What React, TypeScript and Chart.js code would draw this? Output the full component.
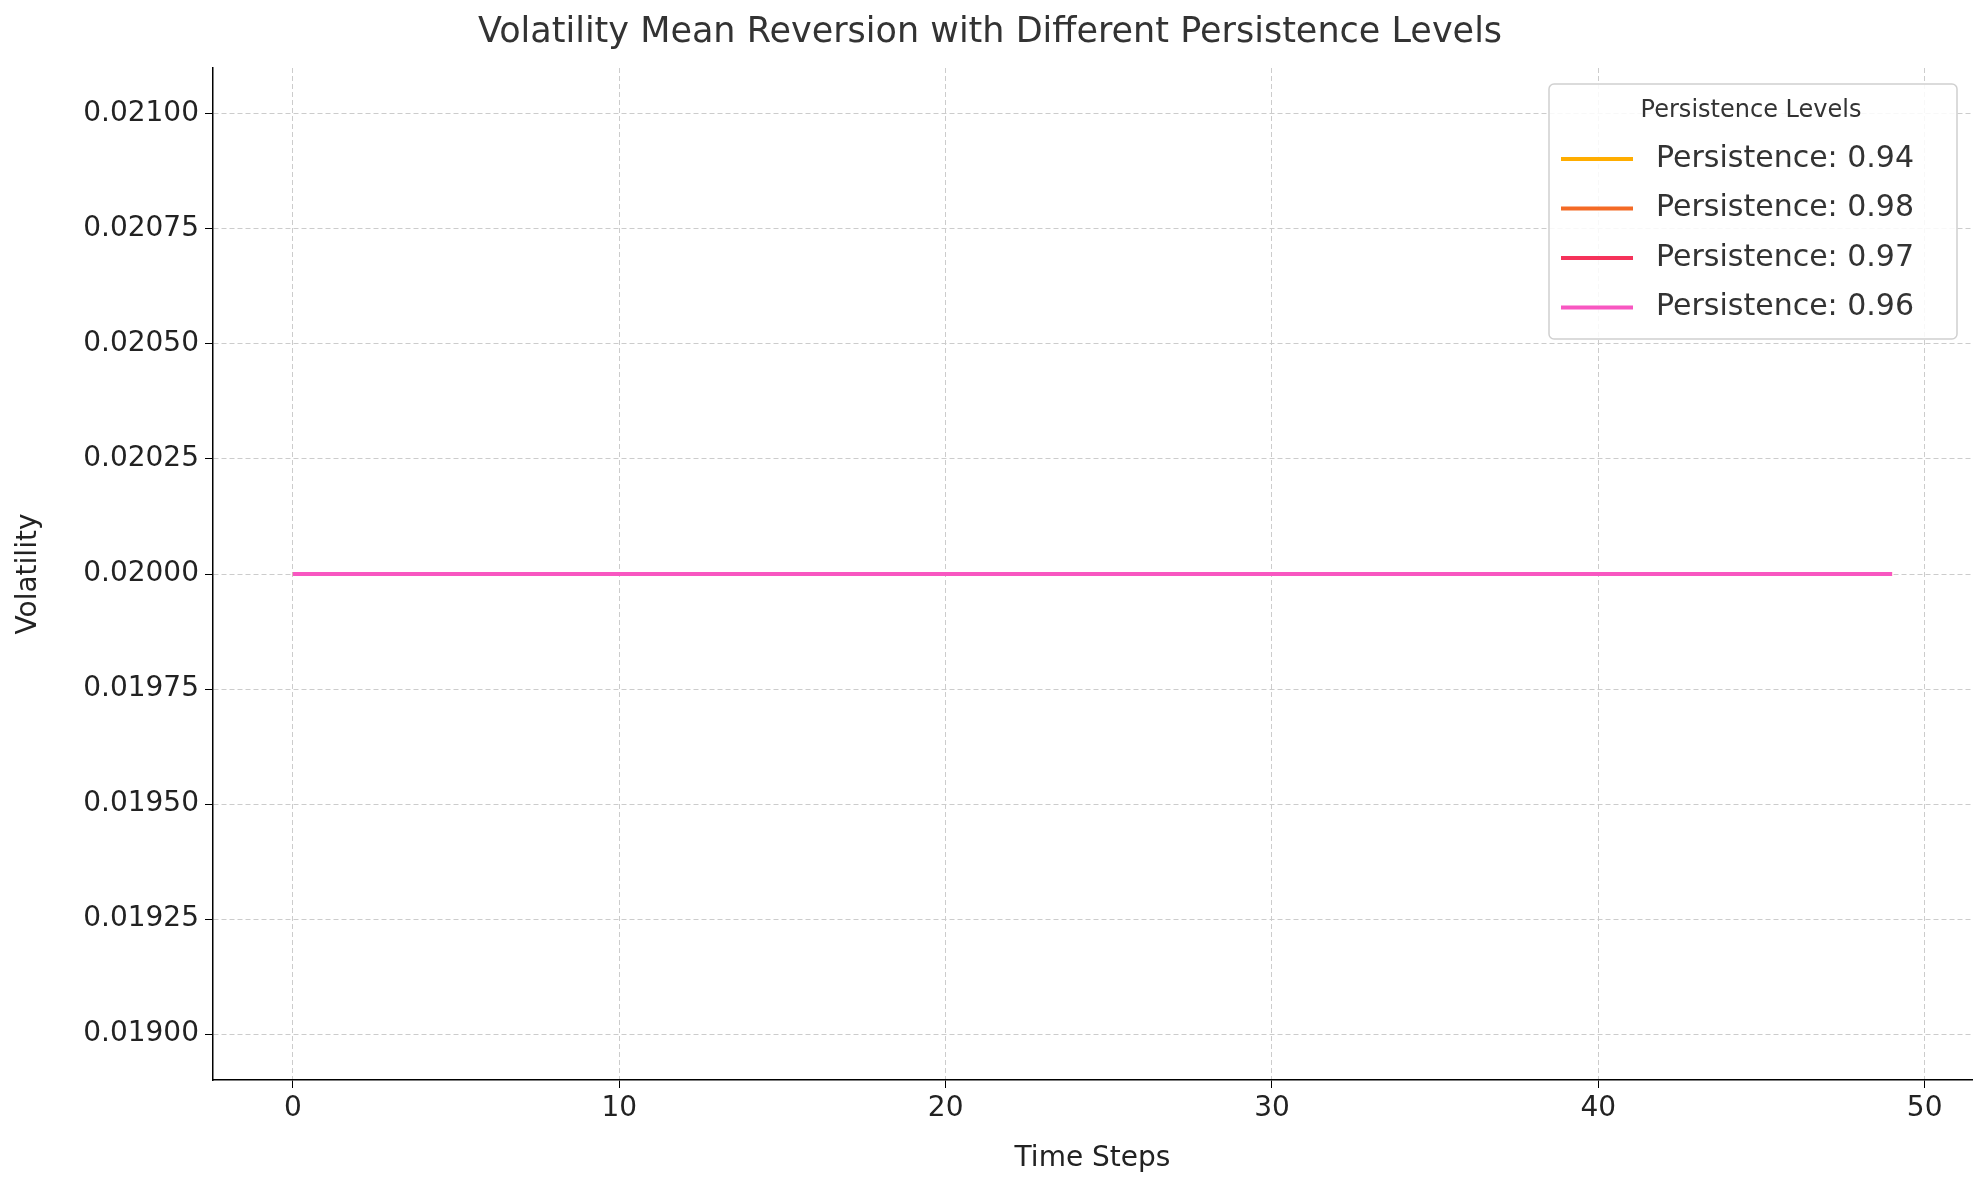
import { useEffect, useRef } from 'react';
import { Chart, registerables } from 'chart.js';

Chart.register(...registerables);

const timeSteps = Array.from({ length: 50 }, (_, i) => i);
const seriesLabels = ['Persistence: 0.94', 'Persistence: 0.98', 'Persistence: 0.97', 'Persistence: 0.96'];
const seriesColors = ['#ffad00', '#f46a25', '#f5325a', '#f857c1'];
// every series stays flat at the long-run level
const vol094 = [0.02,0.02,0.02,0.02,0.02,0.02,0.02,0.02,0.02,0.02,0.02,0.02,0.02,0.02,0.02,0.02,0.02,0.02,0.02,0.02,0.02,0.02,0.02,0.02,0.02,0.02,0.02,0.02,0.02,0.02,0.02,0.02,0.02,0.02,0.02,0.02,0.02,0.02,0.02,0.02,0.02,0.02,0.02,0.02,0.02,0.02,0.02,0.02,0.02,0.02];
const vol098 = [...vol094];
const vol097 = [...vol094];
const vol096 = [...vol094];
const seriesValues = [vol094, vol098, vol097, vol096];
const xTicks = [0, 10, 20, 30, 40, 50];
const yTicks = [0.019, 0.01925, 0.0195, 0.01975, 0.02, 0.02025, 0.0205, 0.02075, 0.021];

const FONT = '"DejaVu Sans", sans-serif';

const boxLegend = {
  id: 'boxLegend',
  afterDraw(chart: any) {
    const { ctx, chartArea } = chart;
    const w = 408, h = 255;
    const x = chartArea.right - w - 15, y = chartArea.top + 16;
    ctx.save();
    ctx.fillStyle = 'rgba(255,255,255,0.85)';
    ctx.strokeStyle = '#d0d0d0';
    ctx.lineWidth = 1.5;
    ctx.beginPath();
    ctx.roundRect(x, y, w, h, 5);
    ctx.fill();
    ctx.stroke();
    ctx.fillStyle = '#333';
    ctx.font = `24px ${FONT}`;
    ctx.textAlign = 'center';
    ctx.textBaseline = 'middle';
    ctx.fillText('Persistence Levels', x + w / 2 - 2, y + 27);
    ctx.font = `30px ${FONT}`;
    ctx.textAlign = 'left';
    chart.data.datasets.forEach((ds: any, i: number) => {
      const ly = y + 75 + i * 49.5;
      ctx.strokeStyle = ds.borderColor;
      ctx.lineWidth = 4;
      ctx.beginPath();
      ctx.moveTo(x + 12, ly);
      ctx.lineTo(x + 84, ly);
      ctx.stroke();
      ctx.fillStyle = '#333';
      ctx.fillText(ds.label, x + 107, ly);
    });
    ctx.restore();
  },
};

const gridOpts = { color: '#cccccc', tickColor: '#000', tickLength: 8, tickBorderDash: [] } as any;

export default function App() {
  const chartRef = useRef<HTMLCanvasElement>(null);

  useEffect(() => {
    document.body.style.margin = '0';
    if (!chartRef.current) return;
    const chart = new Chart(chartRef.current, {
      type: 'line',
      data: {
        datasets: seriesLabels.map((label, i) => ({
          label,
          data: timeSteps.map((t, j) => ({ x: t, y: seriesValues[i][j] })),
          borderColor: seriesColors[i],
          borderWidth: 4,
          pointRadius: 0,
          fill: false,
          order: 3 - i,
        })),
      },
      options: {
        animation: false,
        responsive: false,
        layout: { padding: { left: 8, right: 7, top: 0, bottom: 0 } },
        plugins: {
          legend: { display: false },
          tooltip: { enabled: false },
          title: {
            display: true,
            text: 'Volatility Mean Reversion with Different Persistence Levels',
            color: '#333',
            font: { family: FONT, size: 35, weight: 'normal' },
            padding: { top: 12, bottom: 14 },
          },
        },
        scales: {
          x: {
            type: 'linear',
            min: -2.45,
            max: 51.45,
            afterBuildTicks: (s: any) => { s.ticks = xTicks.map(v => ({ value: v })); },
            afterFit: (s: any) => { s.height = 100; },
            border: { display: true, color: '#000', width: 1.5, dash: [5, 3] } as any,
            grid: gridOpts,
            ticks: { color: '#222', font: { family: FONT, size: 28 }, padding: 4 },
            title: { display: true, text: 'Time Steps', color: '#222', font: { family: FONT, size: 28 }, padding: { top: 0 } },
          },
          y: {
            min: 0.0189,
            max: 0.0211,
            afterBuildTicks: (s: any) => { s.ticks = yTicks.map(v => ({ value: v })); },
            afterFit: (s: any) => { s.width = 205; },
            border: { display: true, color: '#000', width: 1.5, dash: [5, 3] } as any,
            grid: gridOpts,
            ticks: { color: '#222', font: { family: FONT, size: 28 }, padding: 6, callback: (v: any) => Number(v).toFixed(5) },
            title: { display: true, text: 'Volatility', color: '#222', font: { family: FONT, size: 28 }, padding: { bottom: 4 } },
          },
        },
      },
      plugins: [boxLegend],
    });
    return () => chart.destroy();
  }, []);

  return <canvas ref={chartRef} width={1979} height={1180} style={{ display: 'block' }} />;
}
